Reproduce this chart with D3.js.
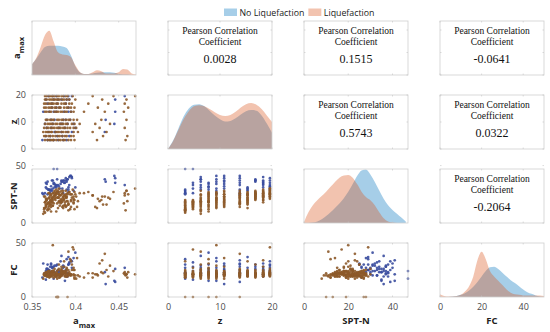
<!DOCTYPE html>
<html>
<head>
<meta charset="utf-8">
<script src="https://cdn.jsdelivr.net/npm/d3@7"></script>
<style>
body { margin: 0; background: #fff; }
.corr { font-family: "Liberation Serif", "DejaVu Serif", serif; }
</style>
</head>
<body>
<script>
var w = 550, h = 332;

// variables, axis domains and tick labels
var varNames = ["amax", "z", "SPT-N", "FC"];
var domains = [[0.35, 0.47], [0, 20], [0, 47], [0, 50]];
var xTickVals = [[0.35, 0.4, 0.45], [0, 10, 20], [0, 20, 40], [0, 20, 40]];
var yTickVals = [[0.35, 0.4, 0.45], [0, 10, 20], [0, 50], [0, 50]];

// pearson coefficients (upper triangle, row by row)
var corrPairs = [[0, 1], [0, 2], [0, 3], [1, 2], [1, 3], [2, 3]];
var corrLabels = ["0.0028", "0.1515", "-0.0641", "0.5743", "0.0322", "-0.2064"];

// Liquefaction samples
var liqAmax = [0.365,0.370,0.372,0.375,0.378,0.383,0.388,0.395,0.425,0.458,
  0.366,0.371,0.374,0.380,0.385,0.390,0.398,0.432,0.460,
  0.363,0.368,0.370,0.373,0.377,0.381,0.386,0.392,0.398,0.420,0.436,
  0.364,0.369,0.372,0.376,0.379,0.383,0.388,0.394,0.401,0.428,0.457,
  0.365,0.370,0.374,0.377,0.382,0.386,0.391,0.396,0.405,0.423,0.440,
  0.366,0.371,0.375,0.379,0.384,0.389,0.394,0.402,0.430,0.459,
  0.367,0.372,0.376,0.380,0.385,0.390,0.395,0.410,0.434,0.456,
  0.364,0.369,0.373,0.378,0.383,0.387,0.392,0.399,0.426,0.461,
  0.366,0.371,0.375,0.380,0.384,0.389,0.396,0.415,0.438,0.457,
  0.365,0.370,0.374,0.378,0.382,0.387,0.393,0.400,0.431,0.459,
  0.367,0.372,0.376,0.381,0.386,0.391,0.397,0.420,0.444,0.469,
  0.368,0.374,0.381,0.386,0.392,0.399,
  0.364,0.369,0.377,0.382,0.388,0.395,
  0.366,0.372,0.379,0.384,0.389,0.403,
  0.367,0.374,0.381,0.386,0.391,0.398,
  0.368,0.372,0.379,0.384,0.389,0.399,
  0.368,0.373,0.381,0.386,0.392,0.398,
  0.365,0.370,0.378,0.383,0.388,0.398,
  0.366,0.371,0.376,0.381,0.390,0.395,
  0.364,0.369,0.373,0.378,0.387,0.393,
  0.367,0.372,0.376,0.380,0.385,0.390,
  0.365,0.370,0.374,0.379,0.384,0.389];
var liqZ = [3.3,3.3,3.3,3.3,3.3,3.3,3.3,3.3,3.3,3.3,
  4.8,4.8,4.8,4.8,4.8,4.8,4.8,4.8,4.8,
  6.3,6.3,6.3,6.3,6.3,6.3,6.3,6.3,6.3,6.3,6.3,
  7.8,7.8,7.8,7.8,7.8,7.8,7.8,7.8,7.8,7.8,7.8,
  9.3,9.3,9.3,9.3,9.3,9.3,9.3,9.3,9.3,9.3,9.3,
  10.8,10.8,10.8,10.8,10.8,10.8,10.8,10.8,10.8,10.8,
  13.8,13.8,13.8,13.8,13.8,13.8,13.8,13.8,13.8,13.8,
  15.3,15.3,15.3,15.3,15.3,15.3,15.3,15.3,15.3,15.3,
  16.8,16.8,16.8,16.8,16.8,16.8,16.8,16.8,16.8,16.8,
  18.3,18.3,18.3,18.3,18.3,18.3,18.3,18.3,18.3,18.3,
  19.6,19.6,19.6,19.6,19.6,19.6,19.6,19.6,19.6,19.6,
  3.3,3.3,3.3,3.3,3.3,3.3,
  4.8,4.8,4.8,4.8,4.8,4.8,
  6.3,6.3,6.3,6.3,6.3,6.3,
  7.8,7.8,7.8,7.8,7.8,7.8,
  9.3,9.3,9.3,9.3,9.3,9.3,
  10.8,10.8,10.8,10.8,10.8,10.8,
  13.8,13.8,13.8,13.8,13.8,13.8,
  15.3,15.3,15.3,15.3,15.3,15.3,
  16.8,16.8,16.8,16.8,16.8,16.8,
  18.3,18.3,18.3,18.3,18.3,18.3,
  19.6,19.6,19.6,19.6,19.6,19.6];
var liqSpt = [9,12,14,17,10,19,15,20,13,11,
  14,16,18,13,19,15,17,16,19,
  8,12,15,18,22,25,28,11,20,24,16,
  10,14,18,21,27,24,16,12,23,19,26,
  13,17,20,24,27,15,19,22,26,14,21,
  15,19,23,27,18,22,25,14,20,28,
  16,20,24,28,14,22,19,26,23,17,
  13,18,22,26,20,24,17,27,21,25,
  21,24,26,22,28,23,25,27,22,24,
  18,22,26,29,24,20,27,25,23,28,
  21,25,28,30,23,26,29,24,27,30,
  11,15,18,13,16,12,
  12,17,20,15,18,14,
  19,10,17,21,14,19,
  20,15,19,22,25,18,
  21,16,22,18,25,20,
  17,21,25,20,16,23,
  18,22,26,17,24,21,
  16,20,24,22,19,25,
  23,26,20,25,21,27,
  20,24,27,22,26,23,
  23,26,22,27,25,28];
var liqFc = [20,18,22,21,0,24,19,33,21,20,
  21,19,23,0,20,27,44,22,18,
  17,21,20,24,19,30,22,42,21,18,25,
  22,19,21,26,0,20,23,35,17,31,23,
  20,23,48,21,18,22,0,25,19,21,29,
  21,20,24,17,28,22,20,36,23,21,
  19,22,20,0,23,26,21,18,40,22,
  21,24,20,22,19,33,21,25,20,23,
  20,22,18,21,25,20,30,22,19,21,
  22,20,24,19,21,28,23,20,34,21,
  21,23,20,26,22,19,46,22,24,21,
  19,23,20,22,25,18,
  20,22,21,19,24,21,
  23,20,22,26,19,20,
  21,24,18,22,20,27,
  19,21,24,20,23,17,
  23,19,21,24,22,20,
  21,24,19,22,20,25,
  22,19,23,21,24,20,
  21,24,22,19,23,21,
  23,21,20,25,22,19,
  22,20,24,21,23,20];

// No Liquefaction samples
var noAmax = [0.375,0.368,0.380,0.390,0.362,
  0.379,0.371,0.385,0.393,0.366,
  0.369,0.377,0.384,0.396,0.434,
  0.372,0.381,0.388,0.400,
  0.365,0.374,0.383,0.391,0.445,0.398,
  0.367,0.376,0.386,0.394,0.435,
  0.363,0.370,0.378,0.387,0.395,0.446,
  0.373,0.382,0.392,
  0.368,0.379,0.389,
  0.366,0.375,0.384,0.393,0.446,
  0.369,0.378,0.387,0.396,0.457,
  0.371,0.386,0.376,0.391,0.367,0.385,0.372,0.389,
  0.375,0.392,0.378,0.373,0.380,0.390,0.374,0.392];
var noZ = [3.3,3.3,3.3,3.3,3.3,
  4.8,4.8,4.8,4.8,4.8,
  6.3,6.3,6.3,6.3,6.3,
  7.8,7.8,7.8,7.8,
  9.3,9.3,9.3,9.3,9.3,9.3,
  10.8,10.8,10.8,10.8,10.8,
  13.8,13.8,13.8,13.8,13.8,13.8,
  15.3,15.3,15.3,
  16.8,16.8,16.8,
  18.3,18.3,18.3,18.3,18.3,
  19.6,19.6,19.6,19.6,19.6,
  3.3,3.3,6.3,6.3,7.8,9.3,10.8,10.8,
  13.8,13.8,15.3,16.8,18.3,18.3,19.6,19.6];
var noSpt = [47,25,27,29,26,
  47,26,30,33,35,
  29,33,36,40,38,
  29,32,35,31,
  26,30,34,38,41,28,
  30,34,37,41,36,
  25,29,33,37,41,39,
  28,30,29,
  36,38,37,
  31,34,37,40,35,
  29,32,35,39,33,
  28,26,31,38,34,36,32,39,
  35,27,31,37,33,36,37,31];
var noFc = [17,30,22,35,18,
  24,28,21,32,16,
  25,20,38,27,23,
  30,24,15,41,
  22,27,33,19,15,36,
  26,23,29,21,12,
  31,25,20,28,34,14,
  27,23,37,
  26,30,22,
  24,28,21,31,26,
  25,29,23,33,27,
  23,27,29,22,26,24,31,25,
  23,30,20,28,25,19,24,30];

// kernel density curves (relative height)
var amaxGrid = [0.350,0.355,0.360,0.365,0.370,0.375,0.380,0.385,0.390,0.395,0.400,0.405,0.410,0.415,0.420,0.425,0.430,0.435,0.440,0.445,0.450,0.455,0.460,0.465,0.470];
var amaxDensNo = [0.20,0.30,0.42,0.52,0.54,0.54,0.54,0.53,0.50,0.36,0.16,0.05,0.02,0.02,0.03,0.04,0.05,0.05,0.05,0.04,0.02,0.01,0.01,0.00,0.00];
var amaxDensLiq = [0.20,0.32,0.52,0.74,0.82,0.62,0.42,0.38,0.37,0.33,0.18,0.06,0.02,0.02,0.05,0.09,0.07,0.03,0.03,0.03,0.05,0.11,0.10,0.03,0.01];
var zGrid = [0,1,2,3,4,5,6,7,8,9,10,11,12,13,14,15,16,17,18,19,20];
var zDensNo = [0.00,0.16,0.38,0.60,0.75,0.82,0.83,0.79,0.71,0.62,0.55,0.51,0.52,0.57,0.64,0.70,0.72,0.71,0.62,0.47,0.30];
var zDensLiq = [0.00,0.15,0.35,0.55,0.70,0.79,0.81,0.79,0.74,0.68,0.63,0.61,0.63,0.69,0.77,0.83,0.85,0.82,0.74,0.62,0.50];
var sptGrid = [0,2,4,6,8,10,12,14,16,18,20,22,24,26,28,30,32,34,36,38,40,42,44,46];
var sptDensNo = [0.00,0.00,0.01,0.03,0.07,0.13,0.20,0.28,0.36,0.46,0.58,0.72,0.87,0.97,0.99,0.90,0.76,0.60,0.45,0.33,0.24,0.17,0.10,0.03];
var sptDensLiq = [0.02,0.20,0.33,0.42,0.50,0.58,0.67,0.76,0.84,0.88,0.89,0.84,0.72,0.58,0.48,0.42,0.33,0.20,0.09,0.03,0.01,0.00,0.00,0.00];
var fcGrid = [0,2,4,6,8,10,12,14,16,18,20,22,24,26,28,30,32,34,36,38,40,42,44,46,48,50];
var fcDensNo = [0.00,0.00,0.00,0.01,0.02,0.04,0.07,0.12,0.19,0.28,0.38,0.48,0.55,0.56,0.52,0.45,0.38,0.31,0.26,0.20,0.14,0.09,0.06,0.03,0.01,0.00];
var fcDensLiq = [0.05,0.02,0.01,0.01,0.02,0.04,0.10,0.20,0.38,0.68,0.84,0.70,0.48,0.38,0.30,0.22,0.14,0.08,0.05,0.04,0.03,0.03,0.03,0.03,0.03,0.02];

var liqData = [liqAmax, liqZ, liqSpt, liqFc];
var noData = [noAmax, noZ, noSpt, noFc];
var densGrids = [amaxGrid, zGrid, sptGrid, fcGrid];
var densNo = [amaxDensNo, zDensNo, sptDensNo, fcDensNo];
var densLiq = [amaxDensLiq, zDensLiq, sptDensLiq, fcDensLiq];

var blueFill = "rgb(0,114,189)", orangeFill = "rgb(217,83,25)";
var blueDot = "#3a4c9e", liqDot = "#8d5a2a";

var cols = [32, 168, 304, 440];
var rows = [21, 95, 169, 243];
var pw = 104, ph = 54;

var xScales = domains.map(function(d, i) {
	return d3.scaleLinear().domain(d).range([cols[i], cols[i] + pw]);
});
var yScales = domains.map(function(d, i) {
	return d3.scaleLinear().domain(d).range([rows[i] + ph, rows[i]]);
});

var svg = d3.select("body")
			.append("svg")
			.attr("width", w)
			.attr("height", h)
			.style("font-family", "'Open Sans', sans-serif");

for (var r = 0; r < 4; r++) {
	for (var c = 0; c < 4; c++) {
		var g = svg.append("g");
		var x = xScales[c], y = yScales[r];

		if (r == c) {
			// density on the diagonal
			var dy = d3.scaleLinear().domain([0, 1]).range([rows[r] + ph, rows[r]]);
			[[densNo[c], blueFill], [densLiq[c], orangeFill]].forEach(function(s) {
				var area = d3.area()
					.x(function(d, i) { return x(densGrids[c][i]); })
					.y0(rows[r] + ph)
					.y1(function(d) { return dy(d); })
					.curve(d3.curveMonotoneX);
				g.append("path")
					.datum(s[0])
					.attr("d", area)
					.attr("fill", s[1])
					.attr("fill-opacity", 0.35);
			});
		} else if (r > c) {
			// scatter below the diagonal
			[[noData, blueDot], [liqData, liqDot]].forEach(function(s) {
				g.selectAll(null)
					.data(s[0][c])
					.enter()
					.append("circle")
					.attr("cx", function(d) { return x(d); })
					.attr("cy", function(d, i) { return y(s[0][r][i]); })
					.attr("r", 1.35)
					.attr("fill", s[1])
					.attr("fill-opacity", 0.9);
			});
		} else {
			// correlation text above the diagonal
			var k = corrPairs.findIndex(function(p) { return p[0] == r && p[1] == c; });
			var cx = cols[c] + pw / 2;
			var t = g.append("text")
				.attr("class", "corr")
				.attr("text-anchor", "middle")
				.attr("fill", "#111");
			t.append("tspan").attr("class", "corr").attr("x", cx).attr("y", rows[r] + 13).style("font-size", "9.5px").text("Pearson Correlation");
			t.append("tspan").attr("class", "corr").attr("x", cx).attr("y", rows[r] + 24).style("font-size", "9.5px").text("Coefficient");
			t.append("tspan").attr("class", "corr").attr("x", cx).attr("y", rows[r] + 42).style("font-size", "12px").text(corrLabels[k]);
		}

		// box
		g.append("rect")
			.attr("x", cols[c]).attr("y", rows[r])
			.attr("width", pw).attr("height", ph)
			.attr("fill", "none")
			.attr("stroke", "#cfcfcf")
			.attr("stroke-width", 0.8);

		// small inward ticks
		xTickVals[c].forEach(function(v) {
			g.append("line").attr("x1", x(v)).attr("x2", x(v)).attr("y1", rows[r] + ph).attr("y2", rows[r] + ph - 1.5).attr("stroke", "#c4c4c4").attr("stroke-width", 0.6);
			g.append("line").attr("x1", x(v)).attr("x2", x(v)).attr("y1", rows[r]).attr("y2", rows[r] + 1.5).attr("stroke", "#c4c4c4").attr("stroke-width", 0.6);
		});
		if (r != c) {
			yTickVals[r].forEach(function(v) {
				g.append("line").attr("x1", cols[c]).attr("x2", cols[c] + 1.5).attr("y1", y(v)).attr("y2", y(v)).attr("stroke", "#c4c4c4").attr("stroke-width", 0.6);
				g.append("line").attr("x1", cols[c] + pw).attr("x2", cols[c] + pw - 1.5).attr("y1", y(v)).attr("y2", y(v)).attr("stroke", "#c4c4c4").attr("stroke-width", 0.6);
			});
		}
	}
}

// outer tick labels
for (var i = 0; i < 4; i++) {
	var ax = svg.append("g")
		.attr("transform", "translate(0," + (rows[3] + ph + 4) + ")")
		.call(d3.axisBottom(xScales[i]).tickValues(xTickVals[i]).tickSize(0).tickFormat(d3.format("")));
	ax.select(".domain").remove();
	ax.selectAll("text").attr("fill", "#4a4a4a").style("font-size", "9px").style("font-family", "'Open Sans', sans-serif");
}
for (var i = 1; i < 4; i++) {
	var ay = svg.append("g")
		.attr("transform", "translate(" + (cols[0] - 3) + ",0)")
		.call(d3.axisLeft(yScales[i]).tickValues(yTickVals[i]).tickSize(0));
	ay.select(".domain").remove();
	ay.selectAll("text").attr("fill", "#4a4a4a").style("font-size", "9px").style("font-family", "'Open Sans', sans-serif");
}

// variable labels
function varLabel(sel, i) {
	if (i == 0) {
		sel.append("tspan").text("a");
		sel.append("tspan").attr("dy", 4).style("font-size", "7.5px").text("max");
	} else {
		sel.text(varNames[i]);
	}
}
for (var i = 0; i < 4; i++) {
	var bl = svg.append("text")
		.attr("x", cols[i] + pw / 2)
		.attr("y", 323.5)
		.attr("text-anchor", "middle")
		.attr("fill", "#222")
		.style("font-size", "9.5px")
		.style("font-weight", "bold");
	varLabel(bl, i);

	var ll = svg.append("text")
		.attr("transform", "translate(" + (i == 0 ? 20 : 17) + "," + (rows[i] + ph / 2) + ") rotate(-90)")
		.attr("text-anchor", "middle")
		.attr("fill", "#222")
		.style("font-size", "9.5px")
		.style("font-weight", "bold");
	varLabel(ll, i);
}

// legend
var legendItems = [["No Liquefaction", blueFill], ["Liquefaction", orangeFill]];
var lx = 224;
legendItems.forEach(function(d) {
	svg.append("rect")
		.attr("x", lx).attr("y", 8.5)
		.attr("width", 13).attr("height", 7.5)
		.attr("fill", d[1]).attr("fill-opacity", 0.35);
	var t = svg.append("text")
		.attr("x", lx + 15.5).attr("y", 15.5)
		.attr("fill", "#222")
		.style("font-size", "8.8px")
		.text(d[0]);
	lx += 15.5 + t.node().getComputedTextLength() + 4;
});
</script>
</body>
</html>
